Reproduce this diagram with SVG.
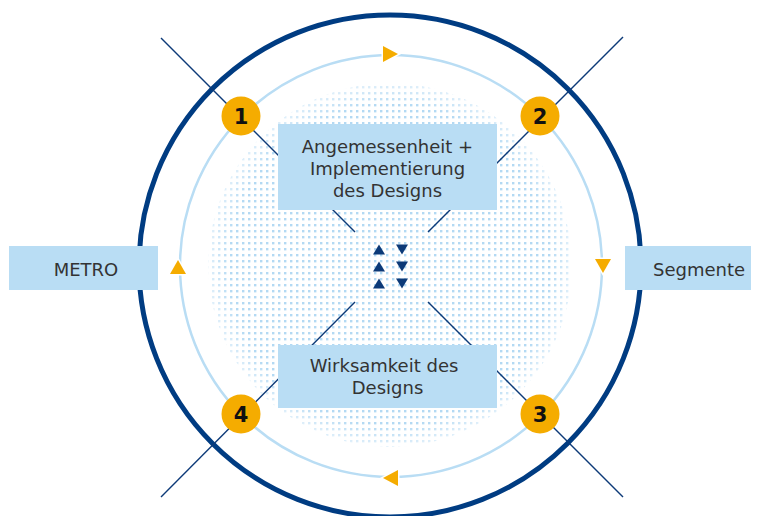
<svg xmlns="http://www.w3.org/2000/svg" width="764" height="516" viewBox="0 0 764 516">
  <style>
    .lbl{font-family:"DejaVu Sans","Liberation Sans",sans-serif;font-size:18px;fill:#333333;text-anchor:middle}
    .num{font-family:"DejaVu Sans","Liberation Sans",sans-serif;font-size:21px;font-weight:bold;fill:#111111;text-anchor:middle}
    .box{fill:#b9ddf4}
    .ln{stroke:#0d3a78;stroke-width:1.4;fill:none}
    .badge{fill:#f5ac00}
    .tri{fill:#f5ac00;stroke:#ffffff;stroke-width:3;paint-order:stroke}
    .ctri{fill:#0d3a78}
  </style>
  <defs>
    <pattern id="dots" patternUnits="userSpaceOnUse" x="0" y="0" width="6" height="6">
      <rect x="2" y="2" width="2.4" height="2.4" fill="#b3d9f3"/>
    </pattern>
    <radialGradient id="fade" cx="390" cy="265" r="182" gradientUnits="userSpaceOnUse">
      <stop offset="0" stop-color="#fff" stop-opacity="1"/>
      <stop offset="0.88" stop-color="#fff" stop-opacity="1"/>
      <stop offset="1" stop-color="#fff" stop-opacity="0.4"/>
    </radialGradient>
    <mask id="dotmask" maskUnits="userSpaceOnUse" x="0" y="0" width="764" height="516">
      <circle cx="390" cy="265" r="182" fill="url(#fade)"/>
    </mask>
  </defs>

  <g id="background">
    <circle cx="390" cy="265" r="182" fill="url(#dots)" mask="url(#dotmask)"/>
    <circle cx="390" cy="266" r="251" fill="none" stroke="#003c82" stroke-width="5"/>
    <circle cx="391" cy="266" r="211" fill="none" stroke="#b9ddf4" stroke-width="2.5"/>
  </g>

  <g id="connectors">
    <line class="ln" x1="161" y1="38" x2="355" y2="232"/>
    <line class="ln" x1="623" y1="37" x2="428" y2="232"/>
    <line class="ln" x1="428" y1="302" x2="623" y2="497"/>
    <line class="ln" x1="355" y1="302" x2="161" y2="497"/>
  </g>

  <g id="cycle-arrows">
    <polygon class="tri" points="383,46 398,54 383,62"/>
    <polygon class="tri" points="595,259 611,259 603,273"/>
    <polygon class="tri" points="398,470 398,486 383,478"/>
    <polygon class="tri" points="178,260 186,274 170,274"/>
  </g>

  <g id="center-arrows">
    <polygon class="ctri" points="379,244.5 385,254.5 373,254.5"/>
    <polygon class="ctri" points="379,261.5 385,271.5 373,271.5"/>
    <polygon class="ctri" points="379,278.5 385,288.5 373,288.5"/>
    <polygon class="ctri" points="396,244.5 408,244.5 402,254.5"/>
    <polygon class="ctri" points="396,261.5 408,261.5 402,271.5"/>
    <polygon class="ctri" points="396,278.5 408,278.5 402,288.5"/>
  </g>

  <g id="node-top">
    <rect class="box" x="278" y="124" width="219" height="86"/>
    <text class="lbl" x="387.5" y="153">Angemessenheit +</text>
    <text class="lbl" x="387.5" y="175">Implementierung</text>
    <text class="lbl" x="387.5" y="197">des Designs</text>
  </g>

  <g id="node-bottom">
    <rect class="box" x="278" y="345" width="219" height="63"/>
    <text class="lbl" x="384" y="372">Wirksamkeit des</text>
    <text class="lbl" x="387.5" y="394">Designs</text>
  </g>

  <g id="node-metro">
    <rect class="box" x="9" y="246" width="149" height="44"/>
    <text class="lbl" x="86" y="276">METRO</text>
  </g>

  <g id="node-segmente">
    <rect class="box" x="625" y="246" width="126" height="44"/>
    <text class="lbl" x="699" y="276">Segmente</text>
  </g>

  <g id="badge-1">
    <circle class="badge" cx="241" cy="116" r="19.5"/>
    <text class="num" x="241" y="123.5">1</text>
  </g>
  <g id="badge-2">
    <circle class="badge" cx="540" cy="116" r="19.5"/>
    <text class="num" x="540" y="123.5">2</text>
  </g>
  <g id="badge-3">
    <circle class="badge" cx="540" cy="414" r="19.5"/>
    <text class="num" x="540" y="421.5">3</text>
  </g>
  <g id="badge-4">
    <circle class="badge" cx="241" cy="414" r="19.5"/>
    <text class="num" x="241" y="421.5">4</text>
  </g>
</svg>
